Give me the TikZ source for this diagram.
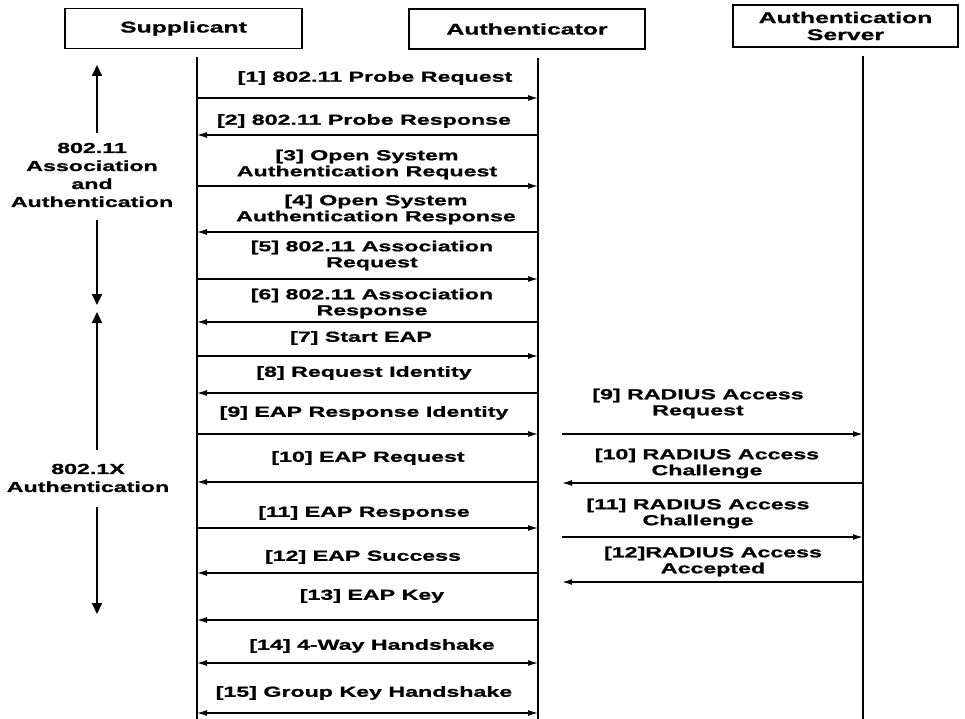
\documentclass[tikz,border=0pt]{standalone}
\usepackage{fontspec}
\newfontfamily\lbl[FakeStretch=1.6,FakeBold=1]{Liberation Sans}
\usetikzlibrary{arrows.meta}
\begin{document}
\begin{tikzpicture}[x=1pt,y=-1pt,
  txt/.style={font={\lbl\bfseries\fontsize{14.5}{16}\selectfont}, align=center, inner sep=0pt},
  sidetxt/.style={font={\lbl\bfseries\fontsize{14.5}{18}\selectfont}, align=center, inner sep=0pt},
  hdr/.style={draw, line width=1.4pt, inner sep=0pt, align=center,
              font={\lbl\bfseries\fontsize{15.5}{17}\selectfont}},
  life/.style={line width=#1},
  msg/.style={line width=1.2pt, -{Latex[length=10pt,width=6pt]}},
  dmsg/.style={line width=1.2pt, {Latex[length=10pt,width=6pt]}-{Latex[length=10pt,width=6pt]}},
  phase/.style={line width=2pt, -{Triangle[length=11pt,width=10pt]}}
]
\useasboundingbox (0,0) rectangle (965,719);

% header boxes
\node[hdr, minimum width=237pt, minimum height=40pt] (sup) at (183.5,28.5) {Supplicant};
\node[hdr, minimum width=236pt, minimum height=40pt] (aut) at (527,29) {Authenticator};
\node[hdr, minimum width=225pt, minimum height=42pt] (srv) at (845.5,26) {Authentication\\Server};

% lifelines
\coordinate (sT) at (197,57);  \coordinate (sB) at (197,719);
\coordinate (aT) at (538,58);  \coordinate (aB) at (538,719);
\coordinate (vT) at (863,56);  \coordinate (vB) at (863,719);
\draw[life=2.6pt] (sT) -- (sB);
\draw[life=2.2pt] (aT) -- (aB);
\draw[life=1.7pt] (vT) -- (vB);

% message end points
\foreach \i/\y in {1/98,2/135,3/186,4/232,5/279,6/322,7/356,8/393,9/434,10/482,11/528,12/573,13/620,14/663,15/713}{
  \coordinate (s\i) at (197,\y);
  \coordinate (a\i) at (538,\y);
}
\foreach \i/\y in {9/434,10/483,11/537,12/582}{
  \coordinate (r\i) at (562,\y);
  \coordinate (v\i) at (863,\y);
}

% supplicant <-> authenticator messages
\draw[msg] (s1) -- (a1);
\draw[msg] (a2) -- (s2);
\draw[msg] (s3) -- (a3);
\draw[msg] (a4) -- (s4);
\draw[msg] (s5) -- (a5);
\draw[msg] (a6) -- (s6);
\draw[msg] (s7) -- (a7);
\draw[msg] (a8) -- (s8);
\draw[msg] (s9) -- (a9);
\draw[msg] (a10) -- (s10);
\draw[msg] (s11) -- (a11);
\draw[msg] (a12) -- (s12);
\draw[msg] (a13) -- (s13);
\draw[dmsg] (s14) -- (a14);
\draw[dmsg] (s15) -- (a15);

% authenticator <-> server messages
\draw[msg, line width=1.5pt] (r9) -- (v9);
\draw[msg, line width=1.5pt] (v10) -- (r10);
\draw[msg, line width=1.5pt] (r11) -- (v11);
\draw[msg, line width=1.5pt] (v12) -- (r12);

% message labels
\node[txt] (l1)  at (375,78)    {[1] 802.11 Probe Request};
\node[txt] (l2)  at (364,121)   {[2] 802.11 Probe Response};
\node[txt] (l3)  at (367,164.5) {[3] Open System\\Authentication Request};
\node[txt] (l4)  at (376,209.5) {[4] Open System\\Authentication Response};
\node[txt] (l5)  at (372,255.5) {[5] 802.11 Association\\Request};
\node[txt] (l6)  at (372,303.5) {[6] 802.11 Association\\Response};
\node[txt] (l7)  at (361,338)   {[7] Start EAP};
\node[txt] (l8)  at (364,373)   {[8] Request Identity};
\node[txt] (l9)  at (364,413)   {[9] EAP Response Identity};
\node[txt] (l10) at (368,458)   {[10] EAP Request};
\node[txt] (l11) at (364,513)   {[11] EAP Response};
\node[txt] (l12) at (363,557)   {[12] EAP Success};
\node[txt] (l13) at (372,596)   {[13] EAP Key};
\node[txt] (l14) at (372,646)   {[14] 4-Way Handshake};
\node[txt] (l15) at (364,693)   {[15] Group Key Handshake};

\node[txt] (m9)  at (698,403.5) {[9] RADIUS Access\\Request};
\node[txt] (m10) at (707,463.5) {[10] RADIUS Access\\Challenge};
\node[txt] (m11) at (698,513.5) {[11] RADIUS Access\\Challenge};
\node[txt] (m12) at (713,561.5) {[12]RADIUS Access\\Accepted};

% phase arrows on the left
\node[sidetxt] (p1) at (92,175) {802.11\\Association\\and\\Authentication};
\node[sidetxt] (p2) at (88,478) {802.1X\\Authentication};
\coordinate (p1a) at (97,133); \coordinate (p1top) at (97,65);
\coordinate (p1b) at (97,220); \coordinate (p1bot) at (97,305);
\coordinate (p2a) at (97,450); \coordinate (p2top) at (97,312);
\coordinate (p2b) at (97,507); \coordinate (p2bot) at (97,614);
\draw[phase] (p1a) -- (p1top);
\draw[phase] (p1b) -- (p1bot);
\draw[phase] (p2a) -- (p2top);
\draw[phase] (p2b) -- (p2bot);
\end{tikzpicture}
\end{document}
